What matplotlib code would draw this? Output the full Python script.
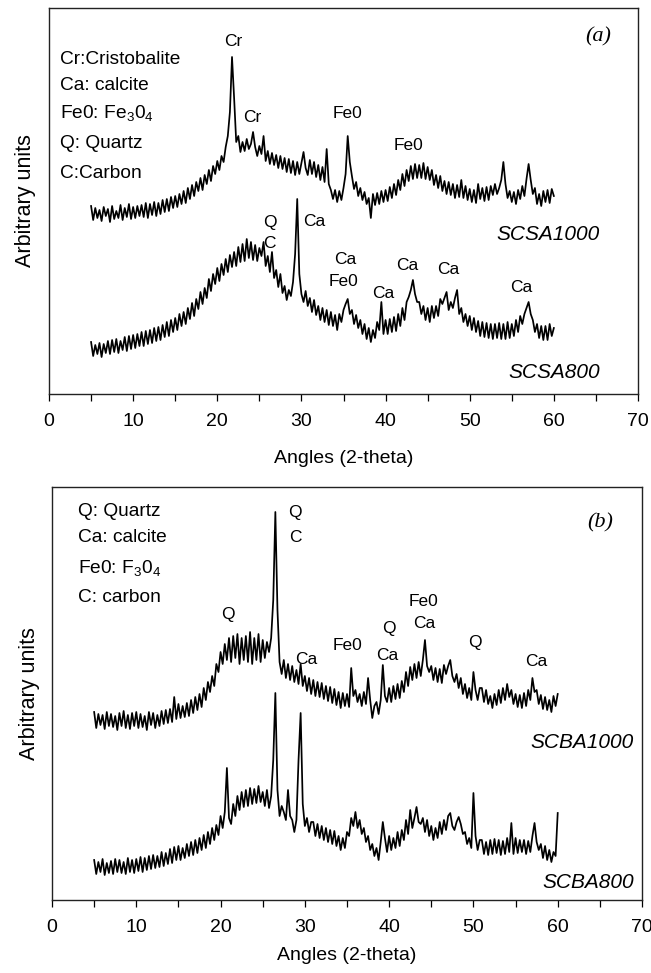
import numpy as np
import matplotlib
matplotlib.use("Agg")
import matplotlib.pyplot as plt

plt.rcParams['font.family'] = ['Liberation Sans', 'DejaVu Sans']
plt.rcParams['mathtext.fontset'] = 'custom'
plt.rcParams['mathtext.rm'] = 'Liberation Sans'
plt.rcParams['mathtext.it'] = 'Liberation Sans:italic'

# 2-theta sampling (degrees), 0.25 deg steps from 5 to 60
angles = np.arange(5.0, 60.0 + 0.125, 0.25)

# ---- Panel (a): intensities (arbitrary units, offset-stacked) ----
scsa1000 = [
    188, 174, 186, 176,  184, 173, 187, 178,  185, 172, 188, 175,  183, 176, 189, 174,   # 5-8
    186, 177, 190, 175,  187, 176, 188, 178,  189, 177, 191, 176,  190, 179, 192, 178,   # 9-12
    191, 180, 194, 182,  195, 183, 197, 186,  198, 187, 200, 190,  203, 191, 206, 195,   # 13-16
    209, 198, 212, 203,  216, 204, 219, 210,  224, 213, 228, 220,  233, 224, 238, 232,   # 17-20
    247, 258, 282, 337,  296, 252, 258, 242,  252, 243, 255, 245,  250, 262, 247, 238,   # 21-24
    248, 240, 258, 233,  243, 230, 241, 229,  239, 226, 238, 225,  236, 222, 235, 221,   # 25-28
    233, 219, 232, 220,  231, 242, 226, 219,  234, 220, 232, 217,  229, 214, 227, 212,   # 29-32
    245, 210, 204, 195,  204, 192, 203, 194,  206, 220, 258, 232,  218, 205, 212, 198,   # 33-36
    206, 194, 202, 190,  196, 176, 200, 189,  201, 190, 203, 192,  204, 193, 207, 196,   # 37-40
    210, 199, 214, 204,  220, 208, 224, 213,  228, 215, 230, 216,  229, 216, 231, 215,   # 41-44
    227, 214, 224, 209,  219, 206, 218, 203,  213, 200, 212, 199,  210, 196, 209, 197,   # 45-48
    214, 196, 208, 194,  205, 192, 204, 191,  210, 195, 206, 193,  207, 194, 208, 199,   # 49-52
    210, 200, 206, 214,  232, 210, 196, 203,  192, 202, 190, 204,  195, 208, 198, 215,   # 53-56
    230, 214, 200, 206,  190, 200, 188, 203,  192, 204, 191, 205,  198,                  # 57-60
]
scsa800 = [
    52, 38, 49, 40,  51, 37, 50, 41,  53, 40, 54, 42,  55, 41, 53, 44,          # 5-8
    57, 43, 58, 45,  59, 46, 60, 48,  62, 48, 63, 50,  64, 51, 66, 53,          # 9-12
    67, 54, 69, 57,  72, 58, 74, 62,  76, 64, 80, 68,  82, 70, 86, 75,          # 13-16
    91, 78, 95, 85,  102, 90, 106, 96,  115, 103, 120, 110,  126, 113, 130, 119,   # 17-20
    135, 122, 139, 127,  142, 128, 147, 132,  150, 133, 155, 136,  152, 134, 149, 133,  # 21-24
    146, 138, 152, 128,  138, 122, 142, 116,  124, 107, 120, 101,  108, 94, 104, 98,    # 25-28
    112, 140, 195, 120,  100, 92, 103, 88,  96, 82, 94, 79,  88, 74, 86, 72,         # 29-32
    84, 69, 82, 68,  79, 64, 80, 72,  84, 90, 95, 80,  84, 70, 79, 66,              # 33-36
    74, 60, 70, 55,  66, 52, 64, 56,  72, 64, 92, 60,  74, 60, 75, 62,              # 37-40
    77, 63, 80, 68,  86, 74, 92, 97,  104, 114, 100, 92,  92, 80, 88, 74,           # 41-44
    86, 72, 88, 76,  88, 78, 95, 90,  96, 102, 84, 92,  86, 96, 104, 80,            # 45-48
    86, 72, 80, 68,  78, 64, 76, 62,  73, 58, 72, 57,  71, 56, 70, 55,              # 49-52
    70, 56, 71, 55,  70, 55, 72, 56,  70, 58, 74, 62,  78, 70, 80, 86,              # 53-56
    92, 80, 74, 62,  70, 56, 68, 54,  68, 54, 70, 58,  66,                          # 57-60
]

# ---- Panel (b) ----
scba1000 = [
    188, 172, 186, 175,  185, 171, 188, 174,  186, 173, 184, 170,  187, 174, 189, 172,   # 5-8
    185, 171, 187, 174,  188, 172, 186, 173,  184, 170, 188, 175,  187, 172, 185, 174,   # 9-12
    189, 176, 190, 177,  191, 178, 203, 181,  196, 182, 194, 183,  197, 184, 200, 187,   # 13-16
    203, 190, 206, 193,  212, 200, 218, 208,  224, 214, 236, 228,  248, 236, 256, 240,   # 17-20
    262, 238, 264, 242,  266, 236, 262, 240,  264, 238, 268, 236,  262, 240, 266, 238,   # 21-24
    260, 242, 258, 248,  262, 300, 388, 290,  238, 226, 240, 222,  236, 220, 234, 218,   # 25-28
    230, 216, 236, 214,  224, 209, 222, 206,  220, 204, 218, 203,  217, 201, 214, 199,   # 29-32
    213, 197, 211, 195,  208, 192, 207, 194,  206, 193, 232, 204,  210, 198, 206, 194,   # 33-36
    208, 196, 222, 200,  182, 194, 198, 186,  200, 235, 204, 198,  212, 198, 214, 201,   # 37-40
    216, 202, 219, 208,  228, 214, 233, 220,  236, 222, 238, 224,  240, 260, 234, 228,   # 41-44
    234, 220, 232, 218,  231, 217, 235, 226,  234, 240, 224, 218,  226, 212, 222, 206,   # 45-48
    216, 202, 212, 200,  228, 210, 200, 212,  212, 198, 210, 196,  204, 192, 206, 195,   # 49-52
    210, 197, 212, 200,  216, 203, 210, 196,  206, 193, 205, 192,  207, 194, 210, 200,   # 53-56
    222, 208, 210, 196,  205, 191, 203, 190,  200, 188, 204, 194,  206,                  # 57-60
]
scba800 = [
    40, 26, 38, 28,  41, 25, 37, 27,  39, 26, 41, 28,  40, 27, 38, 26,          # 5-8
    42, 28, 40, 27,  41, 29, 43, 28,  42, 30, 44, 31,  45, 32, 44, 33,          # 9-12
    48, 34, 47, 36,  51, 37, 53, 40,  54, 40, 52, 42,  56, 44, 58, 45,          # 13-16
    60, 47, 62, 50,  65, 52, 68, 56,  72, 60, 75, 65,  84, 72, 88, 132,         # 17-20
    82, 76, 96, 84,  104, 90, 108, 93,  110, 94, 112, 96,  111, 97, 114, 98,    # 21-24
    108, 94, 110, 92,  104, 140, 207, 110,  84, 94, 88, 80,  110, 84, 80, 68,   # 25-28
    80, 140, 187, 96,  74, 82, 68, 78,  78, 64, 76, 62,  74, 60, 72, 58,        # 29-32
    70, 56, 69, 54,  64, 50, 62, 52,  68, 64, 82, 74,  88, 72, 80, 66,          # 33-36
    72, 58, 64, 50,  56, 44, 52, 40,  58, 78, 62, 48,  64, 50, 62, 52,          # 37-40
    68, 54, 70, 60,  80, 66, 90, 72,  82, 93, 78, 76,  82, 68, 80, 64,          # 41-44
    74, 60, 72, 62,  78, 66, 80, 70,  84, 87, 74, 70,  78, 83, 76, 66,          # 45-48
    68, 56, 62, 52,  107, 64, 50, 60,  60, 46, 58, 45,  60, 46, 61, 47,         # 49-52
    60, 45, 59, 46,  62, 48, 77, 46,  62, 47, 60, 48,  60, 46, 59, 48,          # 53-56
    64, 77, 58, 50,  56, 42, 54, 40,  50, 38, 48, 44,  87,                      # 57-60
]

x_ticks = [0, 10, 20, 30, 40, 50, 60, 70]
x_label = "Angles (2-theta)"
y_label = "Arbitrary units"

legend_a = ["Cr:Cristobalite", "Ca: calcite", "Fe0: Fe$_3$0$_4$", "Q: Quartz", "C:Carbon"]
legend_b = ["Q: Quartz", "Ca: calcite", "Fe0: F$_3$0$_4$", "C: carbon"]

# peak labels: (text, angle, height)
peaks_a = [("Cr", 21.9, 352), ("Cr", 24.1, 276), ("Fe0", 35.5, 281), ("Fe0", 42.7, 249),
           ("Q", 26.3, 172), ("C", 26.2, 151), ("Ca", 31.5, 172), ("Ca", 35.2, 135),
           ("Fe0", 35.0, 112), ("Ca", 39.7, 101), ("Ca", 42.6, 129), ("Ca", 47.5, 124),
           ("Ca", 56.1, 106)]
peaks_b = [("Q", 20.9, 285), ("Q", 28.8, 387), ("C", 28.9, 362), ("Ca", 30.2, 240),
           ("Fe0", 35.1, 255), ("Q", 40.0, 272), ("Ca", 39.8, 245), ("Fe0", 44.1, 298),
           ("Ca", 44.2, 276), ("Q", 50.2, 257), ("Ca", 57.4, 238)]

W, H = 651, 973
fig = plt.figure(figsize=(W / 100, H / 100), dpi=100)
ax_a = fig.add_axes([49 / W, 1 - 394 / H, (638 - 49) / W, 386 / H])
ax_b = fig.add_axes([52 / W, 1 - 900 / H, (642 - 52) / W, 413 / H])

LW = 1.25


def style(ax, ylim, xlab_y):
    ax.set_xlim(0, 70)
    ax.set_ylim(*ylim)
    ax.set_xticks(x_ticks)
    ax.set_xticks([5, 15, 25, 35, 45, 55, 65], minor=True)
    ax.tick_params(axis='x', which='both', direction='out', length=5, width=0.9,
                   labelsize=14, pad=9, colors='black')
    ax.set_yticks([])
    for s in ax.spines.values():
        s.set_linewidth(1.0)
        s.set_color('#222222')
    ax.set_xlabel(x_label, fontsize=14)
    ax.xaxis.set_label_coords(0.5, xlab_y)
    ax.set_ylabel(y_label, fontsize=15.5, labelpad=9)


# Panel (a)
ax_a.plot(angles, scsa1000, color='black', lw=LW)
ax_a.plot(angles, scsa800, color='black', lw=LW)
style(ax_a, (0, 386), -0.145)
for i, t in enumerate(legend_a):
    ax_a.text(1.3, [335, 309, 281, 251, 221][i], t, fontsize=13.8, ha='left', va='center')
for t, xx, yy in peaks_a:
    ax_a.text(xx, yy, t, fontsize=12.5, ha='center', va='center')
ax_a.text(65.5, 159, "SCSA1000", fontsize=15, style='italic', ha='right', va='center')
ax_a.text(65.5, 21, "SCSA800", fontsize=15, style='italic', ha='right', va='center')
ax_a.text(65.3, 357, "(a)", fontsize=16, family='Liberation Serif', style='italic',
          ha='center', va='center')

# Panel (b)
ax_b.plot(angles, scba1000, color='black', lw=LW)
ax_b.plot(angles, scba800, color='black', lw=LW)
style(ax_b, (0, 413), -0.115)
for i, t in enumerate(legend_b):
    ax_b.text(3.1, [388, 362, 332, 302][i], t, fontsize=13.8, ha='left', va='center')
for t, xx, yy in peaks_b:
    ax_b.text(xx, yy, t, fontsize=12.5, ha='center', va='center')
ax_b.text(69.0, 157, "SCBA1000", fontsize=15, style='italic', ha='right', va='center')
ax_b.text(69.1, 18, "SCBA800", fontsize=15, style='italic', ha='right', va='center')
ax_b.text(65.0, 377, "(b)", fontsize=16, family='Liberation Serif', style='italic',
          ha='center', va='center')

fig.savefig("out.png", dpi=100)
